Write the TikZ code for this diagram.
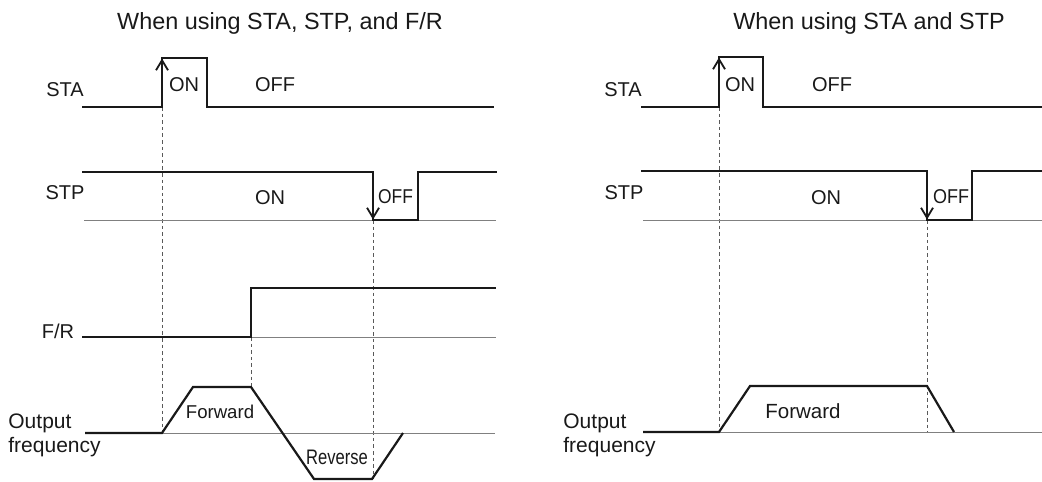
\documentclass[tikz,border=0pt]{standalone}
\usepackage{fontspec}
\setmainfont{Liberation Sans}
\usetikzlibrary{arrows.meta}

\begin{document}
\begin{tikzpicture}[x=0.5pt, y=-0.5pt]
\tikzstyle{sig} = [line width=1.1pt, black!90]
\tikzstyle{refline} = [line width=0.5pt, black!50]
\tikzstyle{guide} = [line width=0.5pt, black!65, dash pattern=on 1.8pt off 1.5pt]
\tikzstyle{edgearrow} = [sig, line width=0.9pt, -{Straight Barb[length=5pt,width=6pt]}]
\tikzstyle{lbl} = [font=\fontsize{10}{12}\selectfont, inner sep=0pt, text=black!90]
\tikzstyle{olbl} = [lbl, font=\fontsize{10.5}{12}\selectfont, anchor=base west]
\tikzstyle{title} = [lbl, font=\fontsize{11.7}{14}\selectfont, anchor=base]

\useasboundingbox (0,0) rectangle (1042,481);

% ---------- left: STA, STP and F/R ----------
\node[title] (titleL) at (280,30) {When using STA, STP, and F/R};

\draw[guide] (162,107) -- (162,433);
\draw[guide] (373,220) -- (373,479);
\draw[guide] (251,337) -- (251,387);

% STA
\draw[sig] (82,107) -- (162,107) -- (162,58) -- (207,58) -- (207,107) -- (494,107);
\draw[edgearrow] (162,107) -- (162,58.5);
\node[lbl] (staL) at (65,90) {STA};
\node[lbl] (staOnL) at (184,85) {ON};
\node[lbl] (staOffL) at (275,85) {OFF};

% STP
\draw[refline] (84,220) -- (496,220);
\draw[sig] (82,172) -- (373,172) -- (373,220) -- (418,220) -- (418,172) -- (497,172);
\draw[edgearrow] (373,172) -- (373,219.5);
\node[lbl] (stpL) at (65,193) {STP};
\node[lbl] (stpOnL) at (270,198) {ON};
\node[lbl, xscale=0.87] (stpOffL) at (395.5,197) {OFF};

% F/R
\draw[refline] (251,337) -- (496,337);
\draw[sig] (82,337) -- (251,337) -- (251,288) -- (496,288);
\node[lbl] (frL) at (58,331) {F/R};

% output frequency
\draw[refline] (85,433) -- (495,433);
\draw[sig] (85,433) -- (162,433) -- (193,387) -- (251,387) -- (314,479) -- (372,479) -- (403,433);
\node[olbl] (outL) at (8,428) {Output};
\node[olbl] (freqL) at (8,452) {frequency};
\node[lbl, font=\fontsize{9.3}{11}\selectfont] (fwdL) at (220,412) {Forward};
\node[lbl, font=\fontsize{10.5}{12}\selectfont, xscale=0.79] (revL) at (337,457) {Reverse};

% ---------- right: STA and STP ----------
\node[title] (titleR) at (869,30) {When using STA and STP};

\draw[guide] (719,107) -- (719,432);
\draw[guide] (927,220) -- (927,432);

% STA
\draw[sig] (641,107) -- (719,107) -- (719,57) -- (763,57) -- (763,107) -- (1042,107);
\draw[edgearrow] (719,107) -- (719,57.5);
\node[lbl] (staR) at (623,90) {STA};
\node[lbl] (staOnR) at (740,85) {ON};
\node[lbl] (staOffR) at (832,85) {OFF};

% STP
\draw[refline] (643,220) -- (1042,220);
\draw[sig] (641,171) -- (927,171) -- (927,220) -- (972,220) -- (972,171) -- (1042,171);
\draw[edgearrow] (927,171) -- (927,219.5);
\node[lbl] (stpR) at (624,193) {STP};
\node[lbl] (stpOnR) at (826,198) {ON};
\node[lbl, xscale=0.9] (stpOffR) at (951,197) {OFF};

% output frequency
\draw[refline] (643,432) -- (1042,432);
\draw[sig] (643,432) -- (719,432) -- (750,386) -- (927,386) -- (954,432);
\node[olbl] (outR) at (563,428) {Output};
\node[olbl] (freqR) at (563,452) {frequency};
\node[lbl, font=\fontsize{10.25}{12}\selectfont] (fwdR) at (803,411) {Forward};
\end{tikzpicture}
\end{document}
